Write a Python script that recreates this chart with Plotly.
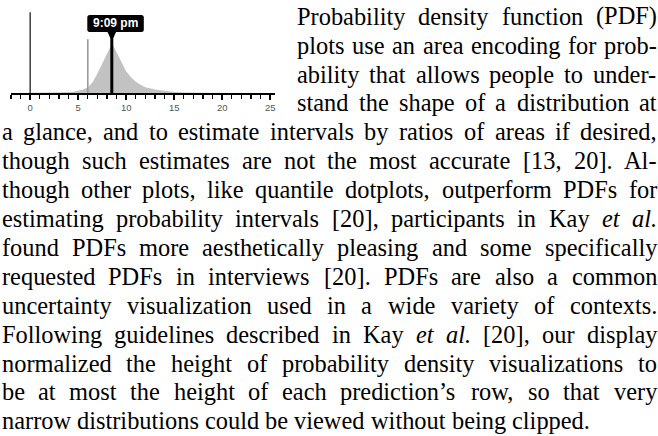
import plotly.graph_objects as go

W, H = 658, 436

# ---------------- chart data ----------------
pdf_x = [-2, 2, 3, 4, 4.5, 5, 5.5, 6, 6.5, 7, 7.5, 8, 8.25, 8.5, 8.75, 9, 9.5,
         10, 10.5, 11, 11.5, 12, 13, 14, 15, 16, 18, 25.5]
pdf_density = [0, 0.002, 0.005, 0.015, 0.025, 0.04, 0.07, 0.12, 0.22, 0.40, 0.60,
               0.83, 0.93, 1.0, 0.93, 0.83, 0.62, 0.44, 0.32, 0.23, 0.17, 0.12,
               0.07, 0.04, 0.02, 0.01, 0.003, 0]
ref_line_x = [0, 6]
ref_line_height = [1.65, 1.10]
ref_line_color = ["#4a4a4a", "#9a9a9a"]
marker_x = 8.5
marker_label = "9:09 pm"
tick_values = [0, 5, 10, 15, 20, 25]
tick_labels = ["0", "5", "10", "15", "20", "25"]
x_range = [-2, 25.5]
y_range = [0, 1.8]

# ---------------- paragraph text ----------------
text_lines = [
    "Probability density function (PDF)",
    "plots use an area encoding for prob-",
    "ability that allows people to under-",
    "stand the shape of a distribution at",
    "a glance, and to estimate intervals by ratios of areas if desired,",
    "though such estimates are not the most accurate [13, 20]. Al-",
    "though other plots, like quantile dotplots, outperform PDFs for",
    "estimating probability intervals [20], participants in Kay et al.",
    "found PDFs more aesthetically pleasing and some specifically",
    "requested PDFs in interviews [20]. PDFs are also a common",
    "uncertainty visualization used in a wide variety of contexts.",
    "Following guidelines described in Kay et al. [20], our display",
    "normalized the height of probability density visualizations to",
    "be at most the height of each prediction\u2019s row, so that very",
    "narrow distributions could be viewed without being clipped.",
]
italic_words = {"et", "al."}

# ---------------- layout geometry ----------------
X_DOM = (11, 275)      # pixel extent of x axis
Y_DOM = (5, 93)        # pixel extent (top, baseline) of chart
px_x = (X_DOM[1] - X_DOM[0]) / (x_range[1] - x_range[0])
px_y = (Y_DOM[1] - Y_DOM[0]) / (y_range[1] - y_range[0])

FS = 24.4
LEAD = 28.9
BASE0 = 24.5
WRAP_LEFT = 297
LEFT = 1.5
RIGHT = 657

# Times New Roman / Liberation Serif advance widths (1/1000 em)
TW = {' ': 250, '!': 333, ',': 250, '.': 250, '-': 333, '(': 333, ')': 333, '[': 333,
      ']': 333, '\u2019': 333, ':': 278, ';': 278,
      'a': 444, 'b': 500, 'c': 444, 'd': 500, 'e': 444, 'f': 333, 'g': 500, 'h': 500,
      'i': 278, 'j': 278, 'k': 500, 'l': 278, 'm': 778, 'n': 500, 'o': 500, 'p': 500,
      'q': 500, 'r': 333, 's': 389, 't': 278, 'u': 500, 'v': 500, 'w': 722, 'x': 500,
      'y': 500, 'z': 444,
      'A': 722, 'B': 667, 'C': 667, 'D': 722, 'E': 611, 'F': 556, 'G': 722, 'H': 722,
      'I': 333, 'J': 389, 'K': 722, 'L': 611, 'M': 889, 'N': 722, 'O': 722, 'P': 556,
      'Q': 722, 'R': 667, 'S': 556, 'T': 611, 'U': 722, 'V': 722, 'W': 944, 'X': 722,
      'Y': 722, 'Z': 611}
TI = {'e': 444, 't': 278, 'a': 500, 'l': 278, '.': 250}
for d in "0123456789":
    TW[d] = 500


def word_width(w, italic=False):
    tab = TI if italic else TW
    return sum(tab.get(c, TW.get(c, 500)) for c in w) * FS / 1000.0


fig = go.Figure()
fig.add_trace(go.Scatter(
    x=pdf_x, y=pdf_density, mode="lines", line=dict(width=0, color="#c2c2c2"),
    fill="tozeroy", fillcolor="#c2c2c2", hoverinfo="skip", showlegend=False))

shapes = []
for xv, hv, col in zip(ref_line_x, ref_line_height, ref_line_color):
    shapes.append(dict(type="line", xref="x", yref="y", x0=xv, x1=xv, y0=0, y1=hv,
                       line=dict(color=col, width=1.6)))

# label box geometry (pixel offsets converted to data units)
box_l = marker_x - 24.5 / px_x
box_r = marker_x + 32.0 / px_x
box_b = (Y_DOM[1] - 32) / px_y
box_t = (Y_DOM[1] - 15) / px_y
rx, ry = 2.5 / px_x, 2.5 / px_y
box_path = (f"M{box_l + rx},{box_b} L{box_r - rx},{box_b} Q{box_r},{box_b} {box_r},{box_b + ry} "
            f"L{box_r},{box_t - ry} Q{box_r},{box_t} {box_r - rx},{box_t} "
            f"L{box_l + rx},{box_t} Q{box_l},{box_t} {box_l},{box_t - ry} "
            f"L{box_l},{box_b + ry} Q{box_l},{box_b} {box_l + rx},{box_b} Z")
shapes.append(dict(type="path", xref="x", yref="y", path=box_path,
                   fillcolor="black", line=dict(width=0)))
tip_w = 4.5 / px_x
tip_y = box_b - 6 / px_y
shapes.append(dict(type="path", xref="x", yref="y",
                   path=f"M{marker_x - tip_w},{box_b + 0.01} L{marker_x + tip_w},{box_b + 0.01} "
                        f"L{marker_x + 1.5 / px_x},{tip_y} L{marker_x - 1.5 / px_x},{tip_y} Z",
                   fillcolor="black", line=dict(width=0)))
shapes.append(dict(type="line", xref="x", yref="y", x0=marker_x, x1=marker_x, y0=0,
                   y1=box_b, line=dict(color="black", width=3)))

annotations = [dict(x=(box_l + box_r) / 2, y=(box_b + box_t) / 2, xref="x", yref="y",
                    text=f"<b>{marker_label}</b>", showarrow=False,
                    font=dict(family="Liberation Sans", size=12, color="white"),
                    xanchor="center", yanchor="middle", borderpad=0)]

# paragraph, placed word by word to reproduce the justified column
for i, line in enumerate(text_lines):
    words = line.split(" ")
    widths = [word_width(w, w in italic_words) for w in words]
    left = WRAP_LEFT if i < 4 else LEFT
    if i == len(text_lines) - 1:
        gap = TW[' '] * FS / 1000.0
    else:
        gap = (RIGHT - left - sum(widths)) / (len(words) - 1)
    ycen = BASE0 + LEAD * i - 0.3375 * FS
    xpos = left
    for w, ww in zip(words, widths):
        txt = f"<i>{w}</i>" if w in italic_words else w
        annotations.append(dict(
            x=xpos / W, y=1 - ycen / H, xref="paper", yref="paper", text=txt,
            showarrow=False, xanchor="left", yanchor="middle", borderpad=0,
            borderwidth=0,
            font=dict(family="Liberation Serif", size=FS, color="black")))
        xpos += ww + gap

fig.update_layout(
    width=W, height=H, margin=dict(l=0, r=0, t=0, b=0, pad=0),
    paper_bgcolor="white", plot_bgcolor="white", showlegend=False,
    shapes=shapes, annotations=annotations,
    xaxis=dict(domain=[X_DOM[0] / W, X_DOM[1] / W], range=x_range, showgrid=False,
               zeroline=False, showline=True, linecolor="black", linewidth=2,
               ticks="outside", tickvals=tick_values, ticktext=tick_labels, ticklen=5,
               tickwidth=1.6, tickcolor="black",
               tickfont=dict(family="Liberation Sans", size=9.5, color="#555555"),
               minor=dict(dtick=1, tick0=0, ticks="outside", ticklen=4, tickwidth=1.1,
                          tickcolor="black", showgrid=False),
               fixedrange=True),
    yaxis=dict(domain=[1 - Y_DOM[1] / H, 1 - Y_DOM[0] / H], range=y_range, visible=False,
               fixedrange=True),
)

fig.write_html("out.html", config={"displayModeBar": False, "staticPlot": True},
               post_script="document.body.style.margin='0';")
